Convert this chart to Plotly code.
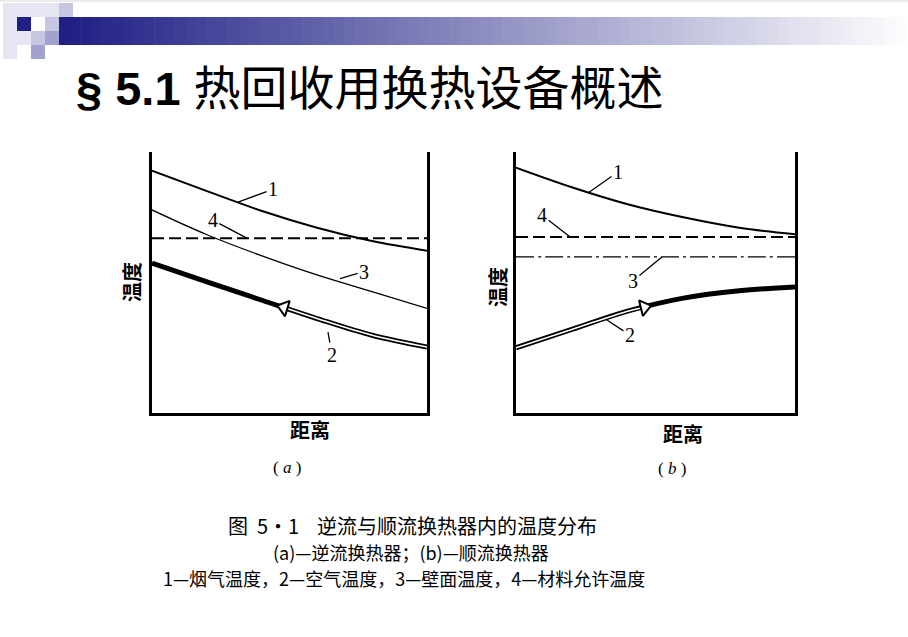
import numpy as np
import plotly.graph_objects as go

W, H = 908, 637

# distance along the exchanger (arbitrary units) and temperatures (arbitrary units)
distance = [0, 2, 4, 6, 8, 10]

# (a) counter-flow
a_flue = [92.8, 85.0, 77.4, 71.0, 65.9, 62.2]
a_limit = [67.0, 67.0, 67.0, 67.0, 67.0, 67.0]
a_wall = [77.8, 68.3, 60.2, 52.9, 46.5, 40.1]
a_air = [57.4, 50.2, 43.2, 36.2, 29.8, 25.3]

# (b) parallel-flow
b_flue = [94.0, 86.5, 80.0, 75.0, 71.0, 68.5]
b_limit = [67.4, 67.4, 67.4, 67.4, 67.4, 67.4]
b_wall = [59.8, 59.8, 59.8, 59.8, 59.8, 59.8]
b_air = [25.0, 32.0, 39.0, 44.0, 46.8, 48.3]

title_text = "<b>§ 5.1</b> 热回收用换热设备概述"
caption_lines = [
    "图  5·1    逆流与顺流换热器内的温度分布",
    "(a)—逆流换热器；(b)—顺流换热器",
    "1—烟气温度，2—空气温度，3—壁面温度，4—材料允许温度",
]

CJK = "Noto Sans CJK SC"
SERIF = "Liberation Serif"


def px(x):
    return x / W


def py(y):
    return 1 - y / H


fig = go.Figure()


def add_panel(n, flue, limit, wall, air, arrow_x, arrow_left, wall_dash, thick_before):
    xa = "x" if n == 1 else f"x{n}"
    ya = "y" if n == 1 else f"y{n}"
    common = dict(x=distance, mode="lines", xaxis=xa, yaxis=ya, hoverinfo="skip")
    fig.add_trace(go.Scatter(y=flue, line=dict(color="black", width=2, shape="spline"), **common))
    fig.add_trace(go.Scatter(y=limit, line=dict(color="black", width=2, dash="12px,5px"), **common))
    fig.add_trace(go.Scatter(y=wall, line=dict(color="black", width=1.3, dash=wall_dash, shape="spline"), **common))
    # air: double line (black wide + white core) on one part, solid thick on the other
    fig.add_trace(go.Scatter(y=air, line=dict(color="black", width=5, shape="spline"), **common))
    arrow_y = float(np.interp(arrow_x, distance, air))
    if thick_before:
        hx = [arrow_x] + [d for d in distance if d > arrow_x]
        hy = [arrow_y] + [v for d, v in zip(distance, air) if d > arrow_x]
    else:
        hx = [d for d in distance if d < arrow_x] + [arrow_x]
        hy = [v for d, v in zip(distance, air) if d < arrow_x] + [arrow_y]
    fig.add_trace(go.Scatter(x=hx, y=hy, mode="lines", xaxis=xa, yaxis=ya, hoverinfo="skip",
                             line=dict(color="white", width=1.6, shape="spline")))
    fig.add_trace(go.Scatter(
        x=[arrow_x], y=[arrow_y], mode="markers", xaxis=xa, yaxis=ya, hoverinfo="skip",
        marker=dict(symbol="triangle-left" if arrow_left else "triangle-right",
                    angle=17 if arrow_left else -14, size=14, color="white",
                    line=dict(color="black", width=2)),
    ))
    return arrow_y


add_panel(1, a_flue, a_limit, a_wall, a_air, 4.8, True, "solid", True)
add_panel(2, b_flue, b_limit, b_wall, b_air, 4.6, False, "18px,4px,3px,4px", False)

ax_common = dict(range=[0, 10], showgrid=False, zeroline=False, showticklabels=False,
                 ticks="", showline=True, linecolor="black", linewidth=2.5, fixedrange=True)
ay_common = dict(range=[0, 100], showgrid=False, zeroline=False, showticklabels=False,
                 ticks="", showline=True, linecolor="black", linewidth=2.5, mirror=True,
                 fixedrange=True)

fig.update_layout(
    width=W, height=H,
    margin=dict(l=0, r=0, t=0, b=0),
    paper_bgcolor="white", plot_bgcolor="white",
    showlegend=False,
    xaxis=dict(domain=[px(152), px(427)], anchor="y", **ax_common),
    yaxis=dict(domain=[py(413), py(152)], anchor="x", **ay_common),
    xaxis2=dict(domain=[px(516), px(795)], anchor="y2", **ax_common),
    yaxis2=dict(domain=[py(413), py(152)], anchor="x2", **ay_common),
)

# curve number labels with leader lines: (axis, x, y, ax, ay, text)
labels = [
    ("", 3.13, 80.8, 35, -13, "1"),
    ("", 3.45, a_limit[0], -34, -18, "4"),
    ("", 6.84, 51.5, 24, -7, "3"),
    ("", 6.4, 31.0, 4, 23, "2"),
    ("2", 2.58, 84.3, 30, -21, "1"),
    ("2", 1.94, b_limit[0], -28, -22, "4"),
    ("2", 5.23, b_wall[0], -29, 24, "3"),
    ("2", 3.26, 35.6, 23, 15, "2"),
]
for n, x, y, dx, dy, t in labels:
    fig.add_annotation(
        x=x, y=y, xref=f"x{n}", yref=f"y{n}", ax=dx, ay=dy, text=t,
        showarrow=True, arrowhead=0, arrowwidth=1.3, arrowcolor="black", standoff=0,
        font=dict(family=SERIF, size=20, color="black"),
    )


def note(x, y, text, size, family=CJK, **kw):
    fig.add_annotation(x=px(x), y=py(y), xref="paper", yref="paper", text=text,
                       xanchor=kw.pop("xanchor", "center"), yanchor="middle",
                       showarrow=False, font=dict(family=family, size=size, color="black"), **kw)


# axis titles and panel tags
for x, y in [(131, 282), (498, 287)]:
    note(x, y, "<b>温度</b>", 20, textangle=-90)
for x, y in [(310, 429), (683, 433)]:
    note(x, y, "<b>距离</b>", 20)
note(287, 467, "( <i>a</i> )", 17, SERIF)
note(672, 468, "( <i>b</i> )", 17, SERIF)

# caption
for (x, y), t, s in zip([(412, 525), (411, 552), (404, 578)], caption_lines, [20, 18, 18]):
    note(x, y, t, s)

# title
note(74, 88, title_text, 47, "Liberation Sans, " + CJK, xanchor="left")

# slide header decoration: squares and a fading bar
shapes = []
light, lav2, lav3, navy = "#e6e6f2", "#c6c6e2", "#a2a2d0", "#1f1f85"
squares = [
    (3, 3, light), (17, 3, light), (31, 3, light), (45, 3, light), (59, 3, lav2),
    (3, 17, light), (17, 17, navy), (45, 17, lav2),
    (3, 31, light), (17, 31, light), (31, 31, lav2), (45, 31, lav3),
    (3, 45, light), (31, 45, lav3),
]
for x0, y0, c in squares:
    shapes.append(dict(type="rect", xref="paper", yref="paper", x0=px(x0), x1=px(x0 + 14),
                       y0=py(y0 + 14), y1=py(y0), fillcolor=c, line=dict(width=0), layer="below"))
c0, c1 = np.array([31, 31, 133]), np.array([252, 252, 254])
steps = 80
x_start, x_end = 59, 905
for i in range(steps):
    f = i / (steps - 1)
    r, g, b = (c0 + (c1 - c0) * f).astype(int)
    xa0 = x_start + (x_end - x_start) * i / steps
    xa1 = x_start + (x_end - x_start) * (i + 1) / steps + 0.6
    shapes.append(dict(type="rect", xref="paper", yref="paper", x0=px(xa0), x1=px(xa1),
                       y0=py(45), y1=py(17), fillcolor=f"rgb({r},{g},{b})",
                       line=dict(width=0), layer="below"))
shapes.append(dict(type="line", xref="paper", yref="paper", x0=0, x1=1, y0=py(1), y1=py(1),
                   line=dict(color="#e4e4e4", width=1.5)))
fig.update_layout(shapes=shapes)

fig.write_html(
    "out.html",
    config={"displayModeBar": False},
    post_script="document.body.style.margin='0';document.body.style.overflow='hidden';",
)
